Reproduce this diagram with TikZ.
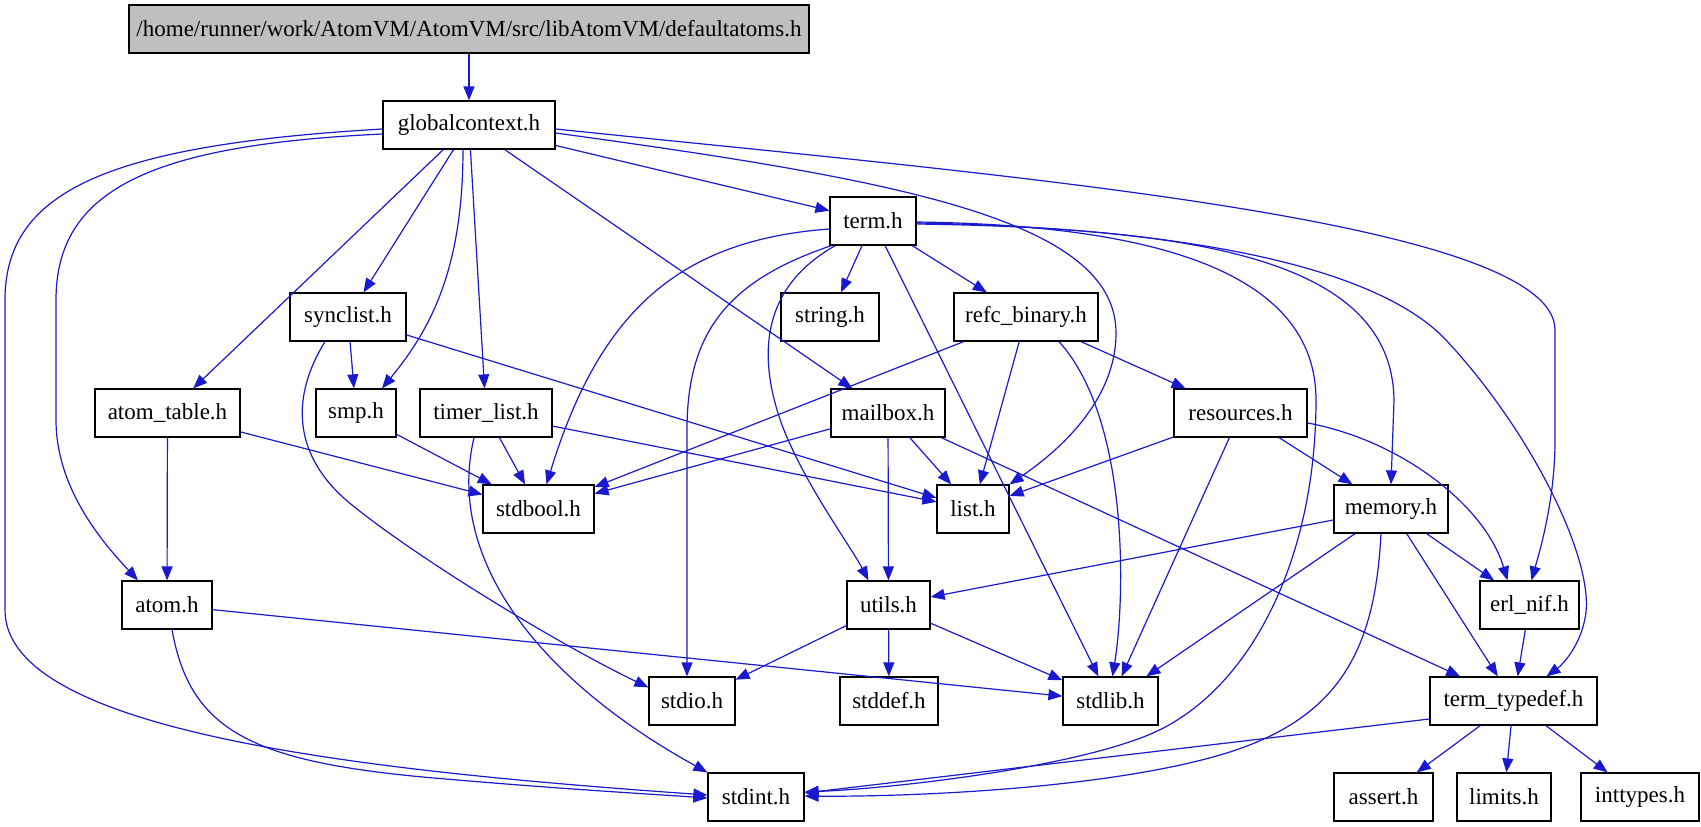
\documentclass[tikz,border=0pt]{standalone}
\usepackage{fontspec}
\setmainfont{Liberation Serif}
\usetikzlibrary{arrows.meta,calc}
\definecolor{edgeblue}{RGB}{25,25,205}
\definecolor{rootgray}{RGB}{191,191,191}
\begin{document}
\begin{tikzpicture}[x=1pt,y=-1pt,
  box/.style={draw=black,line width=1.2pt,fill=white,minimum height=48pt,inner sep=0pt,font=\fontsize{23}{27}\selectfont},
  dep/.style={draw=edgeblue,line width=1.2pt,-{Triangle[length=14pt,width=11pt]}}]
\useasboundingbox (0,0) rectangle (1701,827);
% nodes
\node[box,fill=rootgray,minimum width=680pt] (da) at (469,29) {/home/runner/work/AtomVM/AtomVM/src/libAtomVM/defaultatoms.h};
\node[box,minimum width=172pt] (gc) at (469,125) {globalcontext.h};
\node[box,minimum width=86pt] (term) at (873,221) {term.h};
\node[box,minimum width=116pt] (sync) at (348,317) {synclist.h};
\node[box,minimum width=98pt] (string) at (830,317) {string.h};
\node[box,minimum width=144pt] (refc) at (1026,317) {refc\_binary.h};
\node[box,minimum width=145pt] (atab) at (167.5,413) {atom\_table.h};
\node[box,minimum width=80pt] (smp) at (356,413) {smp.h};
\node[box,minimum width=132pt] (timer) at (486,413) {timer\_list.h};
\node[box,minimum width=114pt] (mailbox) at (888,413) {mailbox.h};
\node[box,minimum width=133pt] (res) at (1240.5,413) {resources.h};
\node[box,minimum width=111pt] (stdbool) at (538.5,509) {stdbool.h};
\node[box,minimum width=72pt] (list) at (973,509) {list.h};
\node[box,minimum width=114pt] (memory) at (1391,509) {memory.h};
\node[box,minimum width=90pt] (atom) at (167,605) {atom.h};
\node[box,minimum width=83pt] (utils) at (888.5,605) {utils.h};
\node[box,minimum width=99pt] (erl) at (1529.5,605) {erl\_nif.h};
\node[box,minimum width=86pt] (stdio) at (692,701) {stdio.h};
\node[box,minimum width=98pt] (stddef) at (889,701) {stddef.h};
\node[box,minimum width=95pt] (stdlib) at (1110.5,701) {stdlib.h};
\node[box,minimum width=167pt] (tt) at (1513.5,701) {term\_typedef.h};
\node[box,minimum width=96pt] (stdint) at (756,797) {stdint.h};
\node[box,minimum width=99pt] (assert) at (1383.5,797) {assert.h};
\node[box,minimum width=94pt] (limits) at (1504,797) {limits.h};
\node[box,minimum width=118pt] (inttypes) at (1640,797) {inttypes.h};
% edges
\draw[dep] (da) -- (gc);
\draw[dep] (gc) -- (term);
\draw[dep] (gc) -- (sync);
\draw[dep] (gc) -- (atab);
\draw[dep] (gc) -- (timer);
\draw[dep] (gc) -- (mailbox);
\draw[dep] ($(gc.south)+(-6,0)$) .. controls (463,270) and (430,330) .. ($(smp.north)+(26,0)$);
\draw[dep] ($(gc.west)+(0,9)$) .. controls (150,145) and (56,190) .. (56,300) -- (56,420) .. controls (56,490) and (105,545) .. ($(atom.north)+(-29,0)$);
\draw[dep] ($(gc.west)+(0,4)$) .. controls (110,145) and (5,190) .. (5,300) -- (5,610) .. controls (5,730) and (350,770) .. ($(stdint.west)+(0,-2)$);
\draw[dep] ($(gc.east)+(0,8)$) .. controls (900,180) and (1116,220) .. (1116,333) .. controls (1116,400) and (1060,450) .. (list.north east);
\draw[dep] ($(gc.east)+(0,4)$) .. controls (1000,175) and (1555,220) .. (1555,330) -- (1555,440) .. controls (1555,500) and (1540,550) .. ($(erl.north)+(2,0)$);
% term.h
\draw[dep] (term) -- (string);
\draw[dep] (term) -- (refc);
\draw[dep] (term) -- (stdlib);
\draw[dep] ($(term.west)+(0,8)$) .. controls (680,240) and (600,310) .. ($(stdbool.north)+(8,0)$);
\draw[dep] ($(term.south west)+(2,0)$) .. controls (730,280) and (687,330) .. (687,430) -- ($(stdio.north)+(-5,0)$);
\draw[dep] ($(term.south west)+(6,0)$) .. controls (765,285) and (755,350) .. (782,425) .. controls (805,485) and (850,545) .. ($(utils.north)+(-20,0)$);
\draw[dep] ($(term.east)+(0,1)$) .. controls (1150,225) and (1316,270) .. (1316,400) .. controls (1316,560) and (1250,690) .. (1153,733) .. controls (1075,767) and (900,788) .. ($(stdint.east)+(0,-5)$);
\draw[dep] ($(term.east)+(0,3)$) .. controls (1200,228) and (1392,260) .. (1394,400) -- (memory.north);
\draw[dep] ($(term.east)+(0,2)$) .. controls (1200,228) and (1380,270) .. (1446,340) .. controls (1530,430) and (1592,555) .. (1586,612) .. controls (1582,645) and (1562,665) .. ($(tt.north)+(33,0)$);
% refc_binary.h
\draw[dep] (refc) -- (res);
\draw[dep] (refc) -- (list);
\draw[dep] (refc) -- (stdbool);
\draw[dep] ($(refc.south)+(33,0)$) .. controls (1130,420) and (1125,600) .. ($(stdlib.north)+(2,0)$);
% resources.h
\draw[dep] (res) -- (list);
\draw[dep] (res) -- (stdlib);
\draw[dep] (res) -- (memory);
\draw[dep] ($(res.east)+(0,10)$) .. controls (1400,440) and (1485,505) .. ($(erl.north)+(-22,0)$);
% mailbox.h
\draw[dep] (mailbox) -- (stdbool);
\draw[dep] (mailbox) -- (list);
\draw[dep] (mailbox) -- (utils);
\draw[dep] (mailbox) -- (tt);
% synclist.h
\draw[dep] (sync) -- (smp);
\draw[dep] (sync) -- (list);
\draw[dep] ($(sync.south)+(-23,0)$) .. controls (292,395) and (290,455) .. (352,505) .. controls (420,560) and (560,645) .. ($(stdio.north west)+(0,11)$);
% timer_list.h
\draw[dep] (timer) -- (stdbool);
\draw[dep] (timer) -- (list);
\draw[dep] ($(timer.south)+(-12,0)$) .. controls (445,560) and (540,680) .. (stdint.north west);
% smp.h, atom_table.h
\draw[dep] (smp) -- (stdbool);
\draw[dep] (atab) -- (stdbool);
\draw[dep] (atab) -- (atom);
% atom.h
\draw[dep] (atom) -- (stdlib);
\draw[dep] ($(atom.south)+(5,0)$) .. controls (190,730) and (250,762) .. (434,778) .. controls (560,789) and (650,794) .. ($(stdint.west)+(0,1)$);
% utils.h
\draw[dep] (utils) -- (stdio);
\draw[dep] (utils) -- (stddef);
\draw[dep] (utils) -- (stdlib);
% memory.h
\draw[dep] (memory) -- (utils);
\draw[dep] (memory) -- (stdlib);
\draw[dep] (memory) -- (tt);
\draw[dep] (memory) -- (erl);
\draw[dep] ($(memory.south)+(-10,0)$) .. controls (1375,650) and (1340,720) .. (1220,755) .. controls (1100,790) and (900,797) .. ($(stdint.east)+(0,-1)$);
% erl_nif.h
\draw[dep] (erl) -- (tt);
% term_typedef.h
\draw[dep] ($(tt.west)+(0,18)$) -- ($(stdint.east)+(0,-4)$);
\draw[dep] (tt) -- (assert);
\draw[dep] (tt) -- (limits);
\draw[dep] (tt) -- (inttypes);
\end{tikzpicture}
\end{document}
